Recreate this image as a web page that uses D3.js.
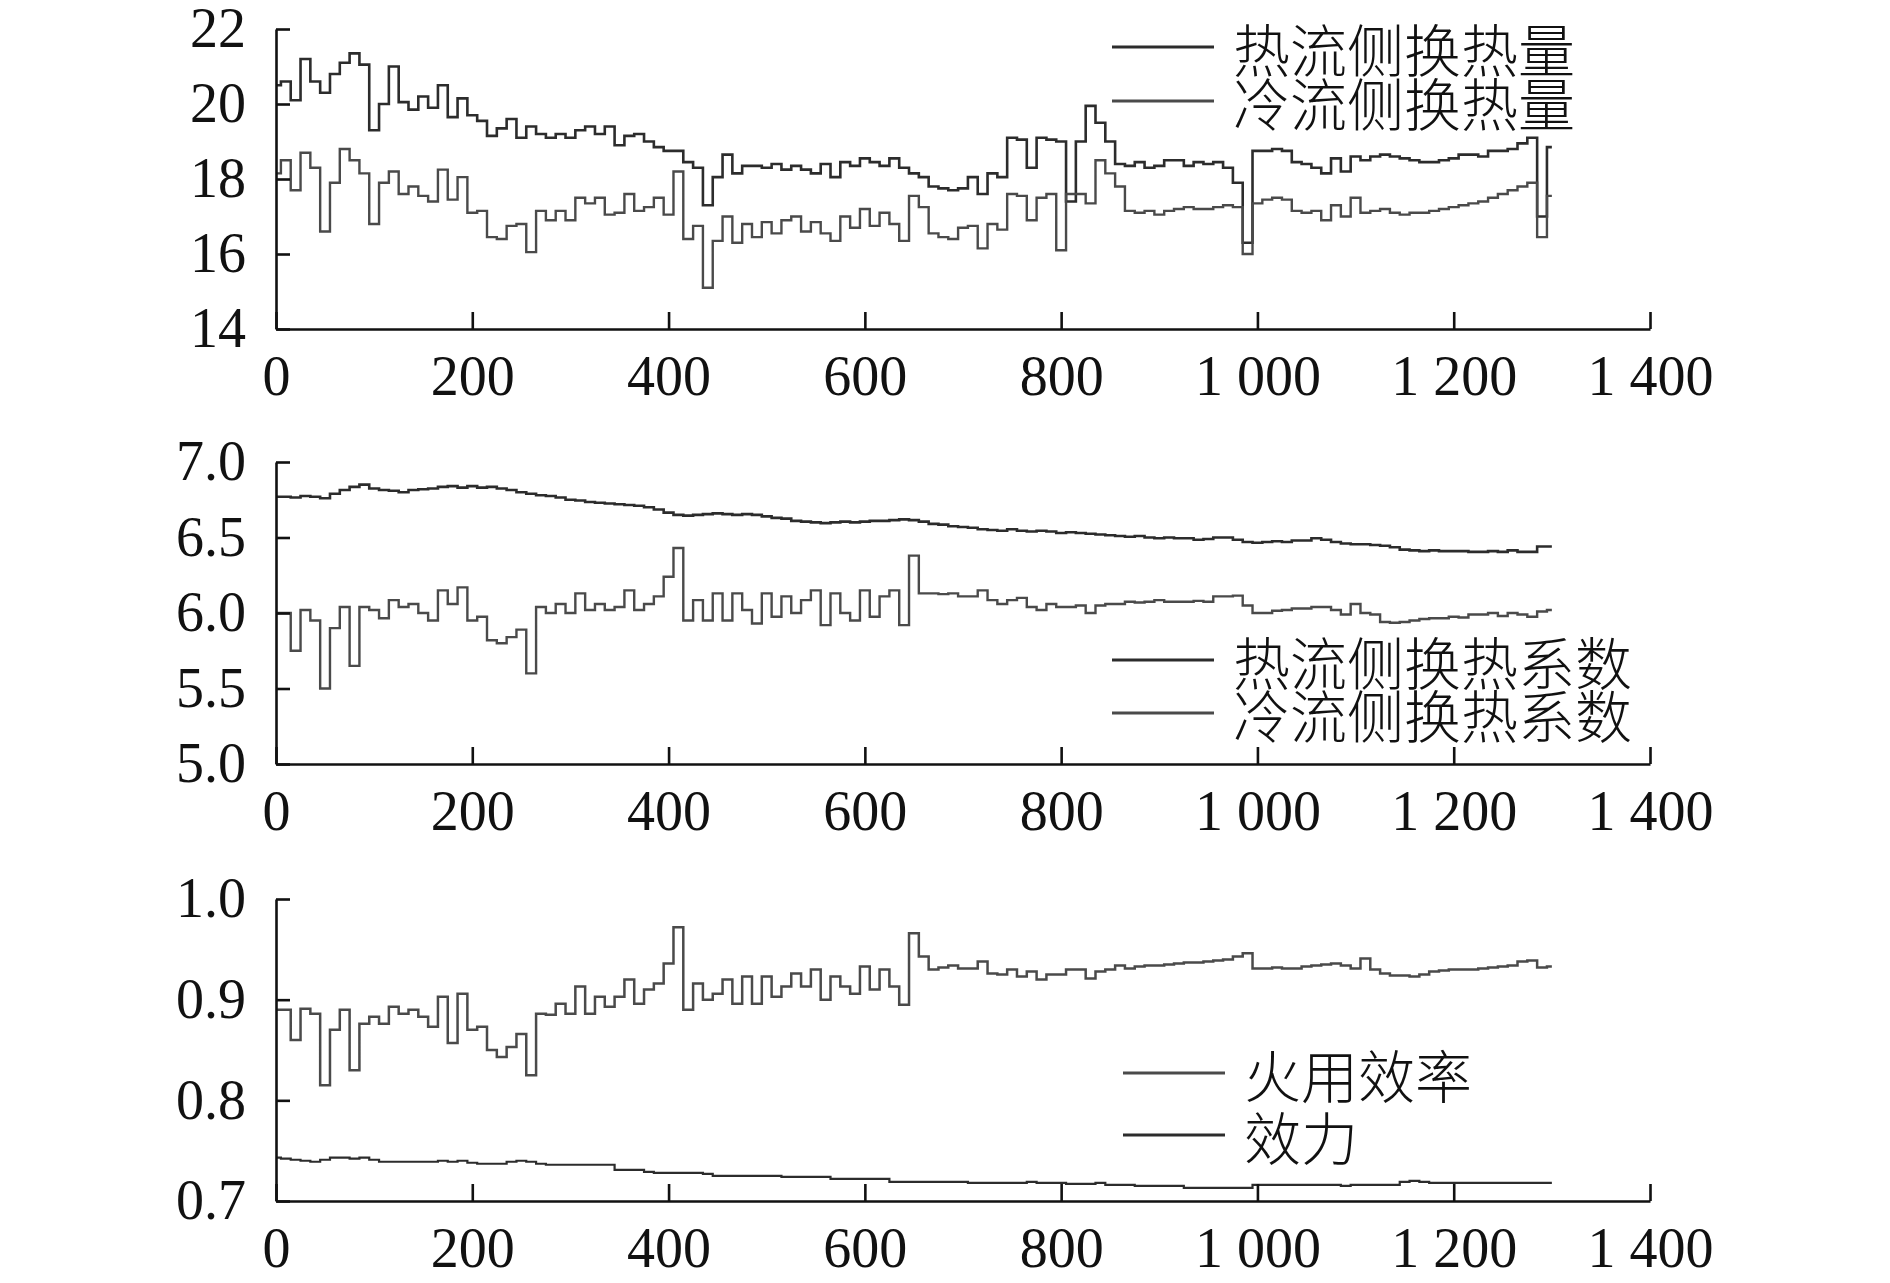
<!DOCTYPE html>
<meta charset="utf-8">

<!-- Load d3.js -->
<script src="https://d3js.org/d3.v7.min.js"></script>

<style>
    body {
        margin: 0;
        background-color: white;
    }
    svg {
        display: block;
    }
</style>

<body>
<script>

    // sample positions on the x axis (one reading every 10 steps, 0 .. 1300)
    var steps = d3.range(0, 1310, 10);

    // panel 1: heat duty
    var hotHeat = [
        20.5, 20.6, 20.1, 21.2, 20.6, 20.3, 20.8, 21.1, 21.35, 21.05,
        19.3, 20.0, 21.0, 20.05, 19.85, 20.2, 19.9, 20.5, 19.65, 20.15,
        19.7, 19.55, 19.15, 19.35, 19.6, 19.1, 19.4, 19.2, 19.1, 19.2,
        19.1, 19.3, 19.4, 19.2, 19.4, 18.9, 19.15, 19.2, 19.0, 18.85,
        18.75, 18.75, 18.45, 18.3, 17.3, 18.05, 18.65, 18.15, 18.35, 18.35,
        18.3, 18.4, 18.25, 18.35, 18.25, 18.15, 18.4, 18.05, 18.45, 18.35,
        18.55, 18.45, 18.35, 18.55, 18.3, 18.15, 18.05, 17.8, 17.75, 17.7,
        17.75, 18.05, 17.6, 18.15, 18.05, 19.1, 19.05, 18.3, 19.1, 19.05,
        19.0, 17.4, 19.0, 19.95, 19.5, 19.0, 18.4, 18.35, 18.45, 18.3,
        18.35, 18.5, 18.5, 18.35, 18.45, 18.4, 18.45, 18.3, 17.9, 16.3,
        18.75, 18.75, 18.8, 18.75, 18.45, 18.4, 18.3, 18.15, 18.55, 18.2,
        18.6, 18.5, 18.6, 18.65, 18.6, 18.55, 18.5, 18.45, 18.45, 18.5,
        18.55, 18.65, 18.65, 18.6, 18.75, 18.75, 18.8, 18.95, 19.1, 17.0,
        18.85
    ];
    var coldHeat = [
        18.15, 18.5, 17.7, 18.7, 18.3, 16.6, 17.9, 18.8, 18.5, 18.15,
        16.8, 17.9, 18.2, 17.6, 17.8, 17.55, 17.4, 18.25, 17.45, 18.05,
        17.1, 17.15, 16.45, 16.4, 16.75, 16.8, 16.05, 17.15, 16.9, 17.15,
        16.9, 17.5, 17.35, 17.5, 17.05, 17.1, 17.6, 17.15, 17.25, 17.5,
        17.05, 18.2, 16.4, 16.75, 15.1, 16.35, 17.0, 16.3, 16.8, 16.45,
        16.85, 16.55, 16.9, 17.0, 16.6, 16.85, 16.55, 16.35, 17.0, 16.7,
        17.2, 16.75, 17.1, 16.8, 16.35, 17.55, 17.25, 16.55, 16.45, 16.4,
        16.7, 16.75, 16.15, 16.8, 16.65, 17.6, 17.55, 16.9, 17.5, 17.6,
        16.1, 17.6, 17.6, 17.35, 18.5, 18.15, 17.8, 17.15, 17.1, 17.15,
        17.05, 17.15, 17.2, 17.25, 17.2, 17.2, 17.25, 17.3, 17.25, 16.0,
        17.35, 17.45, 17.5, 17.45, 17.15, 17.1, 17.15, 16.9, 17.3, 17.0,
        17.5, 17.1, 17.15, 17.2, 17.1, 17.05, 17.1, 17.1, 17.15, 17.2,
        17.25, 17.3, 17.35, 17.4, 17.5, 17.6, 17.7, 17.8, 17.9, 16.45,
        17.55
    ];

    // panel 2: heat transfer coefficient
    var hotCoef = [
        6.77, 6.77, 6.765, 6.775, 6.77, 6.76, 6.79, 6.815, 6.835, 6.85,
        6.825, 6.815, 6.81, 6.8, 6.815, 6.82, 6.825, 6.835, 6.84, 6.83,
        6.84, 6.83, 6.835, 6.825, 6.815, 6.8, 6.79, 6.78, 6.775, 6.765,
        6.75, 6.745, 6.735, 6.73, 6.725, 6.72, 6.715, 6.71, 6.7, 6.685,
        6.665, 6.65, 6.645, 6.65, 6.655, 6.66, 6.655, 6.65, 6.655, 6.65,
        6.64, 6.63, 6.625, 6.61, 6.605, 6.6, 6.595, 6.6, 6.605, 6.6,
        6.605, 6.61, 6.61, 6.615, 6.62, 6.615, 6.605, 6.59, 6.585, 6.575,
        6.57, 6.565, 6.555, 6.55, 6.545, 6.555, 6.545, 6.54, 6.545, 6.54,
        6.53, 6.535, 6.53, 6.525, 6.52, 6.515, 6.51, 6.505, 6.51, 6.5,
        6.495, 6.5, 6.495, 6.495, 6.485, 6.49, 6.5, 6.5, 6.485, 6.47,
        6.465, 6.47, 6.475, 6.47, 6.48, 6.48, 6.495, 6.485, 6.47, 6.46,
        6.455, 6.455, 6.45, 6.445, 6.435, 6.42, 6.415, 6.41, 6.415, 6.41,
        6.41, 6.41, 6.405, 6.405, 6.41, 6.405, 6.415, 6.405, 6.405, 6.44,
        6.44
    ];
    var coldCoef = [
        6.0, 6.0, 5.75, 6.02, 5.95, 5.5, 5.9, 6.04, 5.65, 6.04,
        6.02, 5.965, 6.085, 6.04, 6.06, 6.0, 5.95, 6.15, 6.06, 6.17,
        5.95, 5.975, 5.82, 5.8, 5.84, 5.89, 5.6, 6.04, 6.0, 6.06,
        6.0, 6.13, 6.02, 6.06, 6.02, 6.04, 6.15, 6.02, 6.06, 6.11,
        6.24, 6.43, 5.95, 6.085, 5.95, 6.13, 5.95, 6.13, 6.02, 5.93,
        6.13, 5.975, 6.11, 6.0, 6.085, 6.15, 5.92, 6.13, 6.0, 5.95,
        6.15, 5.975, 6.11, 6.15, 5.92, 6.38, 6.13, 6.13, 6.125, 6.13,
        6.11, 6.11, 6.15, 6.085, 6.06, 6.085, 6.1, 6.04, 6.02, 6.06,
        6.04, 6.04, 6.05, 6.0, 6.05, 6.06, 6.06, 6.075, 6.07, 6.075,
        6.085, 6.075, 6.075, 6.075, 6.08, 6.075, 6.11, 6.11, 6.115, 6.05,
        6.0, 6.0, 6.015, 6.02, 6.03, 6.03, 6.04, 6.04, 6.02, 5.99,
        6.06, 6.0, 5.99, 5.94, 5.935, 5.94, 5.95, 5.96, 5.965, 5.965,
        5.975, 5.97, 5.99, 5.99, 6.0, 5.98, 6.0, 5.99, 5.975, 6.01,
        6.02
    ];

    // panel 3: exergy efficiency and effectiveness
    var exergyEff = [
        0.89, 0.89, 0.86, 0.891, 0.886, 0.815, 0.87, 0.89, 0.83, 0.876,
        0.883, 0.876, 0.893, 0.886, 0.89, 0.883, 0.873, 0.903, 0.857, 0.906,
        0.87, 0.873, 0.85, 0.843, 0.853, 0.866, 0.825, 0.886, 0.885, 0.896,
        0.886, 0.913, 0.886, 0.903, 0.893, 0.903, 0.92, 0.896, 0.91, 0.916,
        0.936, 0.972, 0.89, 0.916, 0.9, 0.906, 0.92, 0.896, 0.923, 0.896,
        0.923, 0.903, 0.913, 0.926, 0.913, 0.93, 0.9, 0.923, 0.913, 0.906,
        0.933, 0.91, 0.93, 0.913, 0.895, 0.966, 0.943, 0.93, 0.932, 0.934,
        0.931, 0.931, 0.938, 0.926, 0.925, 0.93, 0.923, 0.928, 0.92, 0.925,
        0.925, 0.93, 0.93, 0.921, 0.928, 0.93, 0.934, 0.931, 0.933, 0.934,
        0.934, 0.935, 0.936, 0.937, 0.937, 0.938, 0.939, 0.94, 0.943, 0.946,
        0.931, 0.931, 0.932, 0.931, 0.931, 0.933, 0.934, 0.935, 0.936, 0.934,
        0.931, 0.941, 0.93, 0.926, 0.924, 0.924, 0.923, 0.925, 0.928, 0.929,
        0.93, 0.93, 0.93, 0.931, 0.932, 0.933, 0.934, 0.938, 0.939, 0.932,
        0.933
    ];
    var effectiveness = [
        0.743, 0.742, 0.741, 0.74, 0.739, 0.741, 0.743, 0.743, 0.742, 0.743,
        0.741, 0.739, 0.739, 0.739, 0.739, 0.739, 0.739, 0.74, 0.739, 0.74,
        0.738, 0.737, 0.737, 0.737, 0.739, 0.74, 0.739, 0.737, 0.736, 0.736,
        0.736, 0.736, 0.736, 0.736, 0.736, 0.731, 0.731, 0.731, 0.729, 0.728,
        0.728, 0.728, 0.728, 0.728, 0.727, 0.725, 0.725, 0.725, 0.725, 0.725,
        0.725, 0.725, 0.724, 0.724, 0.724, 0.724, 0.724, 0.722, 0.722, 0.722,
        0.722, 0.722, 0.722, 0.719, 0.719, 0.719, 0.719, 0.719, 0.719, 0.719,
        0.719, 0.718, 0.718, 0.718, 0.718, 0.718, 0.718, 0.719, 0.718, 0.718,
        0.718, 0.717, 0.717, 0.717, 0.718, 0.716, 0.716, 0.716, 0.715, 0.715,
        0.715, 0.715, 0.715, 0.713, 0.713, 0.713, 0.713, 0.713, 0.713, 0.713,
        0.716, 0.716, 0.716, 0.716, 0.716, 0.716, 0.716, 0.716, 0.716, 0.715,
        0.716, 0.716, 0.716, 0.716, 0.716, 0.719, 0.72, 0.719, 0.718, 0.718,
        0.718, 0.718, 0.718, 0.718, 0.718, 0.718, 0.718, 0.718, 0.718, 0.718,
        0.718
    ];

    // axis ticks and labels
    var xTicks = [0, 200, 400, 600, 800, 1000, 1200, 1400];
    var xTickLabels = ["0", "200", "400", "600", "800", "1 000", "1 200", "1 400"];
    var heatTicks = [14, 16, 18, 20, 22];
    var coefTicks = [5.0, 5.5, 6.0, 6.5, 7.0];
    var effTicks = [0.7, 0.8, 0.9, 1.0];

    var heatNames = ["热流侧换热量", "冷流侧换热量"];
    var coefNames = ["热流侧换热系数", "冷流侧换热系数"];
    var effNames = ["火用效率", "效力"];

    var width = 1890, height = 1283;
    var numFont = "'Liberation Serif', 'Times New Roman', serif";
    var cjkFont = "'Noto Sans CJK SC', sans-serif";

    var svg = d3.select("body").append("svg")
        .attr("width", width)
        .attr("height", height);

    var x = d3.scaleLinear().domain([0, 1400]).range([276, 1650]);

    var panels = [
        {
            top: 29, bottom: 329, domain: [14, 22], ticks: heatTicks, fmt: d3.format("d"),
            series: [
                { values: hotHeat, color: "#2c2c2c", width: 2.6 },
                { values: coldHeat, color: "#4a4a4a", width: 2.4 }
            ],
            names: heatNames, legendX: 1112, legendY: [47, 101]
        },
        {
            top: 462, bottom: 764, domain: [5, 7], ticks: coefTicks, fmt: d3.format(".1f"),
            series: [
                { values: hotCoef, color: "#2c2c2c", width: 2.6 },
                { values: coldCoef, color: "#4a4a4a", width: 2.4 }
            ],
            names: coefNames, legendX: 1112, legendY: [660, 713]
        },
        {
            top: 899, bottom: 1201, domain: [0.7, 1.0], ticks: effTicks, fmt: d3.format(".1f"),
            series: [
                { values: exergyEff, color: "#4a4a4a", width: 2.5 },
                { values: effectiveness, color: "#2c2c2c", width: 2.2 }
            ],
            names: effNames, legendX: 1123, legendY: [1073, 1135]
        }
    ];

    panels.forEach(function (p) {
        var y = d3.scaleLinear().domain(p.domain).range([p.bottom, p.top]);

        var line = d3.line()
            .x(function (d, i) { return x(steps[i]); })
            .y(function (d) { return y(d); })
            .curve(d3.curveStep);

        p.series.forEach(function (s) {
            svg.append("path")
                .datum(s.values)
                .attr("d", line)
                .attr("fill", "none")
                .attr("stroke", s.color)
                .attr("stroke-width", s.width)
                .attr("stroke-linejoin", "miter");
        });

        // x axis, ticks pointing up
        var gx = svg.append("g")
            .attr("transform", "translate(0," + p.bottom + ")")
            .call(d3.axisBottom(x)
                .tickValues(xTicks)
                .tickFormat(function (d, i) { return xTickLabels[i]; })
                .tickSizeInner(-17)
                .tickSizeOuter(0)
                .tickPadding(26));

        // y axis, ticks pointing right
        var gy = svg.append("g")
            .attr("transform", "translate(" + x(0) + ",0)")
            .call(d3.axisLeft(y)
                .tickValues(p.ticks)
                .tickFormat(p.fmt)
                .tickSizeInner(-14)
                .tickSizeOuter(0)
                .tickPadding(30));

        [gx, gy].forEach(function (g) {
            g.select(".domain").attr("stroke", "#111").attr("stroke-width", 2.6);
            g.selectAll(".tick line").attr("stroke", "#111").attr("stroke-width", 2.6);
            g.selectAll(".tick text")
                .attr("fill", "#111")
                .style("font-family", numFont)
                .style("font-size", "56px");
        });

        // legend
        p.names.forEach(function (name, i) {
            var ly = p.legendY[i];
            svg.append("line")
                .attr("x1", p.legendX)
                .attr("x2", p.legendX + 102)
                .attr("y1", ly)
                .attr("y2", ly)
                .attr("stroke", p.series[i].color)
                .attr("stroke-width", 3);
            svg.append("text")
                .attr("x", p.legendX + 121)
                .attr("y", ly)
                .attr("dominant-baseline", "central")
                .style("font-family", cjkFont)
                .style("font-size", "57px")
                .style("font-weight", 300)
                .attr("fill", "#111")
                .text(name);
        });
    });

</script>
</body>
